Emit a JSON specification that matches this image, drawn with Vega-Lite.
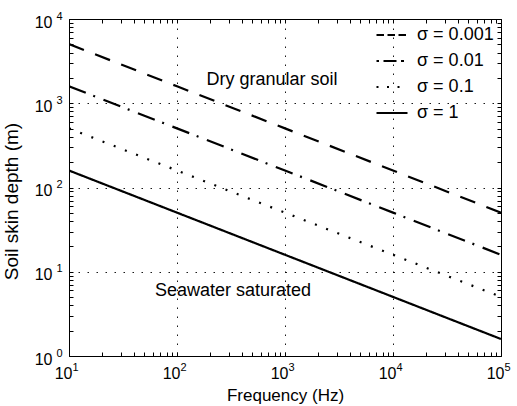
{
  "$schema": "https://vega.github.io/schema/vega-lite/v6.json",
  "width": 432,
  "height": 337,
  "autosize": {"type": "none"},
  "padding": {"left": 69, "top": 19, "right": 16, "bottom": 50},
  "background": "white",
  "config": {
    "font": "Liberation Sans",
    "view": {"stroke": "black", "strokeWidth": 1},
    "axis": {"domain": false, "labelColor": "black", "titleColor": "black", "titleFontWeight": "normal", "labelFlush": false, "labelOverlap": false}
  },
  "datasets": {
    "lines": [
      {"f": 10, "d": 5030, "sigma": "σ = 0.001"},
      {"f": 100, "d": 1590, "sigma": "σ = 0.001"},
      {"f": 1000, "d": 503, "sigma": "σ = 0.001"},
      {"f": 10000, "d": 159, "sigma": "σ = 0.001"},
      {"f": 100000, "d": 50.3, "sigma": "σ = 0.001"},
      {"f": 10, "d": 1590, "sigma": "σ = 0.01"},
      {"f": 100, "d": 503, "sigma": "σ = 0.01"},
      {"f": 1000, "d": 159, "sigma": "σ = 0.01"},
      {"f": 10000, "d": 50.3, "sigma": "σ = 0.01"},
      {"f": 100000, "d": 15.9, "sigma": "σ = 0.01"},
      {"f": 10, "d": 503, "sigma": "σ = 0.1"},
      {"f": 100, "d": 159, "sigma": "σ = 0.1"},
      {"f": 1000, "d": 50.3, "sigma": "σ = 0.1"},
      {"f": 10000, "d": 15.9, "sigma": "σ = 0.1"},
      {"f": 100000, "d": 5.03, "sigma": "σ = 0.1"},
      {"f": 10, "d": 159, "sigma": "σ = 1"},
      {"f": 100, "d": 50.3, "sigma": "σ = 1"},
      {"f": 1000, "d": 15.9, "sigma": "σ = 1"},
      {"f": 10000, "d": 5.03, "sigma": "σ = 1"},
      {"f": 100000, "d": 1.59, "sigma": "σ = 1"}
    ],
    "notes": [
      {"f": 759, "d": 1888, "label": "Dry granular soil"},
      {"f": 330, "d": 5.9, "label": "Seawater saturated"}
    ]
  },
  "resolve": {"axis": {"x": "independent", "y": "independent"}, "scale": {"strokeDash": "independent"}},
  "layer": [
    {
      "data": {"name": "lines"},
      "mark": {"type": "line", "color": "black", "strokeWidth": 2.2, "clip": true},
      "encoding": {
        "x": {
          "field": "f", "type": "quantitative",
          "scale": {"type": "log", "domain": [10, 100000], "nice": false},
          "axis": {
            "orient": "bottom", "values": [10, 100, 1000, 10000, 100000],
            "ticks": false, "grid": true, "gridDash": [1.5, 7.5], "gridColor": "black", "gridOpacity": 0.9,
            "labelExpr": "'10'", "labelAlign": "right", "labelOffset": 3, "labelBaseline": "alphabetic",
            "labelPadding": 22, "labelFontSize": 16,
            "title": "Frequency (Hz)", "titleFontSize": 17, "titlePadding": 6
          }
        },
        "y": {
          "field": "d", "type": "quantitative",
          "scale": {"type": "log", "domain": [1, 10000], "nice": false},
          "axis": {
            "orient": "left", "values": [1, 10, 100, 1000, 10000],
            "ticks": false, "grid": true, "gridDash": [1.5, 7.5], "gridColor": "black", "gridOpacity": 0.9,
            "labelExpr": "'10'", "labelAlign": "right", "labelBaseline": "alphabetic", "labelOffset": 8,
            "labelPadding": 17, "labelFontSize": 16,
            "title": "Soil skin depth (m)", "titleFontSize": 19, "titlePadding": 13, "titleY": 182
          }
        },
        "strokeDash": {
          "field": "sigma", "type": "nominal",
          "scale": {
            "domain": ["σ = 0.001", "σ = 0.01", "σ = 0.1", "σ = 1"],
            "range": [[16, 12], [18, 8, 2, 9], [2, 10], [1, 0]]
          },
          "legend": null
        }
      }
    },
    {
      "data": {"name": "lines"},
      "mark": {"type": "line", "opacity": 0},
      "encoding": {
        "x": {
          "field": "f", "type": "quantitative",
          "axis": {
            "orient": "bottom", "values": [10, 100, 1000, 10000, 100000],
            "ticks": false, "grid": false,
            "labelExpr": "'' + round(log(datum.value) / LN10)", "labelAlign": "left", "labelOffset": 3,
            "labelBaseline": "alphabetic", "labelPadding": 14, "labelFontSize": 11, "title": null
          }
        },
        "y": {
          "field": "d", "type": "quantitative",
          "axis": {
            "orient": "left", "values": [1, 10, 100, 1000, 10000],
            "ticks": false, "grid": false,
            "labelExpr": "'' + round(log(datum.value) / LN10)", "labelAlign": "right",
            "labelBaseline": "alphabetic", "labelOffset": 0, "labelPadding": 7, "labelFontSize": 11, "title": null
          }
        },
        "strokeDash": {
          "field": "sigma", "type": "nominal",
          "scale": {
            "domain": ["σ = 0.001", "σ = 0.01", "σ = 0.1", "σ = 1"],
            "range": [[7.5, 3.5], [2.5, 4.5, 13, 4.5, 3, 10], [2, 8.5], [1, 0]]
          },
          "legend": {
            "orient": "none", "legendX": 306, "legendY": -1, "title": null, "padding": 0,
            "symbolType": "stroke", "symbolSize": 961, "symbolStrokeWidth": 2.2, "symbolOpacity": 1,
            "symbolStrokeColor": "black", "labelFontSize": 18, "labelColor": "black",
            "labelOffset": 8, "rowPadding": 0
          }
        }
      }
    },
    {
      "data": {"name": "lines"},
      "mark": {"type": "line", "opacity": 0},
      "encoding": {
        "x": {
          "field": "f", "type": "quantitative",
          "axis": {
            "orient": "bottom", "offset": -4,
            "values": [10, 20, 30, 40, 50, 60, 70, 80, 90, 100, 200, 300, 400, 500, 600, 700, 800, 900, 1000, 2000, 3000, 4000, 5000, 6000, 7000, 8000, 9000, 10000, 20000, 30000, 40000, 50000, 60000, 70000, 80000, 90000, 100000],
            "ticks": true, "tickSize": 4, "tickColor": "black", "labels": false, "grid": false, "title": null
          }
        },
        "y": {
          "field": "d", "type": "quantitative",
          "axis": {
            "orient": "left", "offset": -4,
            "values": [1, 2, 3, 4, 5, 6, 7, 8, 9, 10, 20, 30, 40, 50, 60, 70, 80, 90, 100, 200, 300, 400, 500, 600, 700, 800, 900, 1000, 2000, 3000, 4000, 5000, 6000, 7000, 8000, 9000, 10000],
            "ticks": true, "tickSize": 4, "tickColor": "black", "labels": false, "grid": false, "title": null
          }
        }
      }
    },
    {
      "data": {"name": "lines"},
      "mark": {"type": "line", "opacity": 0},
      "encoding": {
        "x": {
          "field": "f", "type": "quantitative",
          "axis": {
            "orient": "top", "offset": -4,
            "values": [10, 20, 30, 40, 50, 60, 70, 80, 90, 100, 200, 300, 400, 500, 600, 700, 800, 900, 1000, 2000, 3000, 4000, 5000, 6000, 7000, 8000, 9000, 10000, 20000, 30000, 40000, 50000, 60000, 70000, 80000, 90000, 100000],
            "ticks": true, "tickSize": 4, "tickColor": "black", "labels": false, "grid": false, "title": null
          }
        },
        "y": {
          "field": "d", "type": "quantitative",
          "axis": {
            "orient": "right", "offset": -4,
            "values": [1, 2, 3, 4, 5, 6, 7, 8, 9, 10, 20, 30, 40, 50, 60, 70, 80, 90, 100, 200, 300, 400, 500, 600, 700, 800, 900, 1000, 2000, 3000, 4000, 5000, 6000, 7000, 8000, 9000, 10000],
            "ticks": true, "tickSize": 4, "tickColor": "black", "labels": false, "grid": false, "title": null
          }
        }
      }
    },
    {
      "data": {"name": "notes"},
      "mark": {"type": "text", "fontSize": 18, "color": "black", "align": "center", "baseline": "middle"},
      "encoding": {
        "x": {"field": "f", "type": "quantitative", "axis": null},
        "y": {"field": "d", "type": "quantitative", "axis": null},
        "text": {"field": "label"}
      }
    }
  ]
}
